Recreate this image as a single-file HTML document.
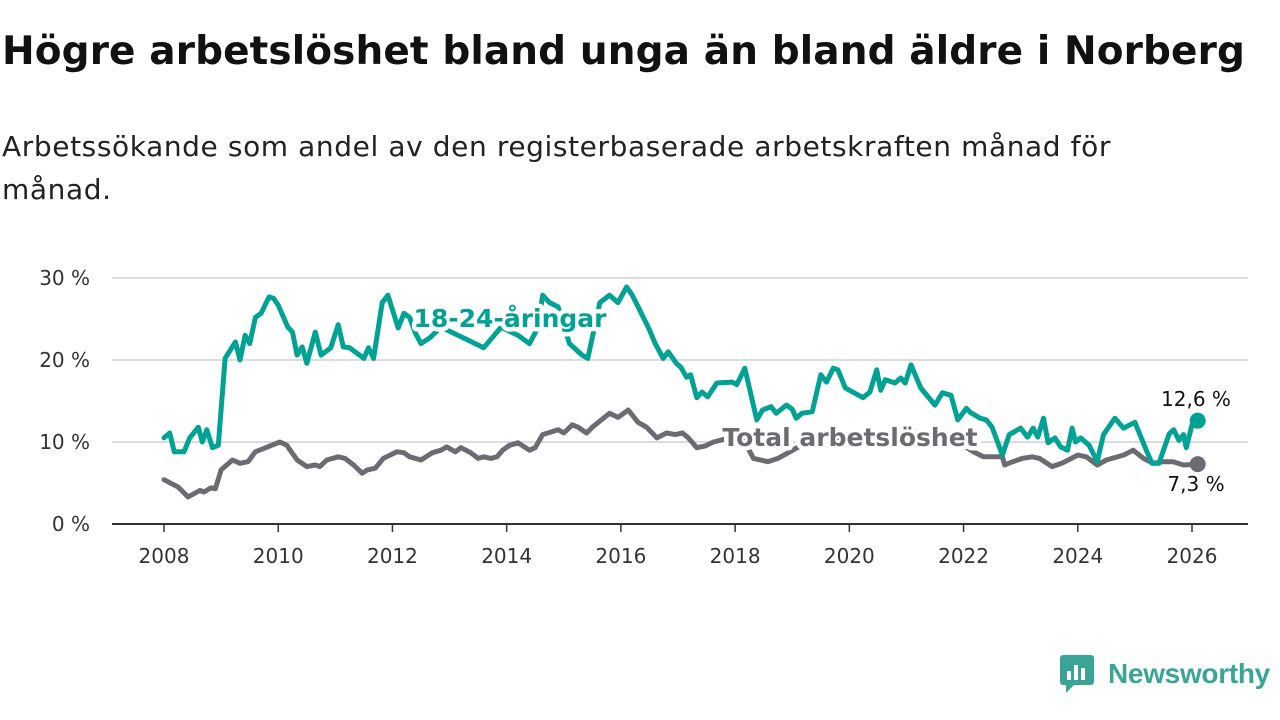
<!DOCTYPE html>
<html><head><meta charset="utf-8">
<style>
body{margin:0;width:1280px;height:720px;background:#fff;font-family:"DejaVu Sans","Liberation Sans",sans-serif;overflow:hidden;position:relative}
h1{position:absolute;left:2px;top:29px;margin:0;font-size:39px;font-weight:bold;color:#111;white-space:nowrap;line-height:46px}
.sub{position:absolute;left:2px;top:125px;margin:0;font-size:28px;letter-spacing:0.6px;line-height:43px;color:#222;width:1175px}
svg{position:absolute;left:0;top:0}
</style></head><body>
<h1 id="title">Högre arbetslöshet bland unga än bland äldre i Norberg</h1>
<p class="sub">Arbetssökande som andel av den registerbaserade arbetskraften månad för månad.</p>
<svg id="chart" width="1280" height="720"></svg>
<script>
const youthT=[2008,2008.1,2008.18,2008.35,2008.45,2008.6,2008.67,2008.75,2008.85,2008.95,2009.07,2009.25,2009.33,2009.42,2009.5,2009.6,2009.7,2009.84,2009.92,2010.0,2010.17,2010.25,2010.33,2010.42,2010.5,2010.65,2010.75,2010.92,2011.05,2011.14,2011.25,2011.5,2011.58,2011.67,2011.82,2011.92,2012.1,2012.2,2012.3,2012.4,2012.5,2012.65,2012.85,2013.0,2013.3,2013.6,2013.9,2014.2,2014.4,2014.55,2014.63,2014.75,2014.9,2015.1,2015.32,2015.42,2015.63,2015.8,2015.95,2016.1,2016.2,2016.33,2016.5,2016.6,2016.74,2016.83,2016.97,2017.05,2017.15,2017.22,2017.33,2017.42,2017.52,2017.68,2017.95,2018.03,2018.17,2018.38,2018.48,2018.63,2018.72,2018.9,2019.0,2019.07,2019.17,2019.35,2019.5,2019.6,2019.72,2019.8,2019.93,2020.24,2020.36,2020.48,2020.55,2020.63,2020.8,2020.9,2020.98,2021.08,2021.25,2021.38,2021.5,2021.63,2021.78,2021.9,2022.05,2022.12,2022.29,2022.4,2022.5,2022.68,2022.8,2023.0,2023.12,2023.22,2023.3,2023.4,2023.48,2023.6,2023.7,2023.82,2023.9,2023.96,2024.05,2024.2,2024.34,2024.45,2024.65,2024.8,2025.0,2025.2,2025.3,2025.42,2025.6,2025.68,2025.77,2025.85,2025.9,2026.0,2026.1];
const youthV=[10.5,11.1,8.8,8.8,10.5,11.8,10,11.5,9.3,9.6,20.2,22.2,20,23,22,25.2,25.7,27.7,27.5,26.7,24,23.4,20.6,21.6,19.6,23.4,20.6,21.5,24.3,21.6,21.5,20.2,21.5,20.2,27,27.9,23.9,25.7,25.2,23.3,22,22.7,24,23.5,22.5,21.5,24,23,22,24,27.9,27,26.5,22,20.6,20.2,27,27.9,27,28.9,27.9,26.1,23.7,22,20.2,21,19.6,19.1,17.9,18.2,15.4,16.1,15.5,17.2,17.3,17,19,12.7,13.9,14.3,13.5,14.5,14,12.9,13.5,13.7,18.2,17.3,19,18.8,16.6,15.4,16.1,18.8,16.3,17.6,17.2,17.8,17.2,19.4,16.6,15.5,14.5,16,15.7,12.7,14.1,13.6,12.9,12.7,11.8,8.4,10.9,11.7,10.6,11.7,10.6,12.9,9.9,10.5,9.4,9,11.7,10,10.5,9.6,7.6,10.9,12.9,11.7,12.4,9,7.4,7.4,11,11.5,10.2,10.9,9.3,12.1,12.6];
const totalT=[2008,2008.25,2008.42,2008.63,2008.7,2008.82,2008.9,2009.0,2009.2,2009.33,2009.47,2009.6,2009.78,2010.03,2010.15,2010.33,2010.5,2010.65,2010.73,2010.85,2011.05,2011.17,2011.32,2011.47,2011.56,2011.7,2011.84,2012.08,2012.2,2012.3,2012.5,2012.7,2012.85,2012.95,2013.1,2013.2,2013.37,2013.5,2013.6,2013.72,2013.83,2013.93,2014.05,2014.2,2014.4,2014.5,2014.63,2014.9,2015.0,2015.15,2015.25,2015.4,2015.5,2015.8,2015.95,2016.13,2016.3,2016.45,2016.63,2016.8,2016.95,2017.08,2017.18,2017.33,2017.47,2017.62,2017.9,2018.1,2018.26,2018.32,2018.45,2018.57,2018.75,2018.96,2019.08,2019.3,2019.6,2020.0,2020.5,2021.0,2021.5,2022.0,2022.17,2022.35,2022.52,2022.68,2022.72,2022.86,2023.03,2023.2,2023.33,2023.55,2023.72,2024.0,2024.15,2024.34,2024.5,2024.8,2024.97,2025.15,2025.32,2025.5,2025.67,2025.85,2026.1];
const totalV=[5.4,4.5,3.3,4.1,3.9,4.4,4.3,6.6,7.8,7.4,7.6,8.8,9.3,10,9.6,7.8,7,7.2,7,7.8,8.2,8,7.2,6.2,6.6,6.8,8,8.8,8.7,8.2,7.8,8.7,9,9.4,8.8,9.3,8.7,8,8.2,8,8.2,9,9.6,9.9,9,9.3,10.9,11.5,11.1,12.1,11.8,11.1,11.8,13.5,13,13.9,12.4,11.8,10.5,11.1,10.9,11.1,10.5,9.3,9.5,10,10.5,10.5,8.8,8,7.8,7.6,8,8.8,9.3,9.8,10.3,10.8,11.2,11.5,10.8,9.6,8.8,8.2,8.2,8.2,7.2,7.6,8,8.2,8,7,7.4,8.4,8.2,7.2,7.8,8.4,9,8,7.4,7.6,7.6,7.2,7.3];
const yTicks=[0,10,20,30];
const xTicks=[2008,2010,2012,2014,2016,2018,2020,2022,2024,2026];
const NS='http://www.w3.org/2000/svg';
const svg=document.getElementById('chart');
const X=y=>164+(y-2008)*(1192-164)/18;
const Y=v=>524-v*8.2;
function el(tag,attrs,parent){const e=document.createElementNS(NS,tag);for(const k in attrs)e.setAttribute(k,attrs[k]);(parent||svg).appendChild(e);return e;}
(function(){const h=document.getElementById('title');const w=h.getBoundingClientRect().width;const n=h.textContent.length;h.style.letterSpacing=((1243-w)/n)+'px';})();
yTicks.forEach(v=>{
  if(v>0){const g=el('line',{x1:112,x2:1248,y1:Y(v),y2:Y(v),stroke:'#dcdcdc','stroke-width':2});
  
  }
  const t=el('text',{x:90,y:Y(v)+7,'text-anchor':'end','font-size':20,fill:'#333'});
  t.textContent=v+' %';
  
  
});
const ax=el('line',{x1:112,x2:1248,y1:524,y2:524,stroke:'#333','stroke-width':2});


xTicks.forEach(yr=>{
  const tk=el('line',{x1:X(yr),x2:X(yr),y1:524,y2:532,stroke:'#333','stroke-width':1.5});
  
  
  const t=el('text',{x:X(yr),y:563,'text-anchor':'middle','font-size':20,fill:'#333'});
  t.textContent=yr;
  
  
});
function line(ts,vs,color,name){
  const d=ts.map((t,i)=>(i?'L':'M')+X(t).toFixed(1)+' '+Y(vs[i]).toFixed(1)).join(' ');
  const p=el('path',{d:d,fill:'none',stroke:color,'stroke-width':5,'stroke-linejoin':'round','stroke-linecap':'round'});
  
  
  const n=ts.length-1;
  const c=el('circle',{cx:X(ts[n]),cy:Y(vs[n]),r:8,fill:color});
  
  
}
line(totalT,totalV,'#6d6b72','total-line');
line(youthT,youthV,'#00a294','youth-line');
function label(txt,x,y,color,size,weight,name){
  const t=el('text',{x:x,y:y,'text-anchor':'middle','font-size':size,'font-weight':weight,fill:color,stroke:'#fff','stroke-width':weight=='bold'?9:6,'paint-order':'stroke','stroke-linejoin':'round'});
  t.textContent=txt;
  
  
}
label('18-24-åringar',510,327,'#00a294',25,'bold','youth-series-label');
label('Total arbetslöshet',850,446,'#6d6b72',25,'bold','total-series-label');
label(youthV[youthV.length-1].toString().replace('.',',')+' %',1196,406,'#111',20,'normal','youth-end-value');
label(totalV[totalV.length-1].toString().replace('.',',')+' %',1196,491,'#111',20,'normal','total-end-value');
</script>
<div style="position:absolute;left:1060px;top:655px;display:flex;align-items:center">
  <svg width="36" height="38" viewBox="0 0 36 38" style="position:static">
    <rect x="0" y="0" width="34" height="30" rx="3" fill="#3aa597"/>
    <path d="M6 30 L6 38 L14 30 Z" fill="#3aa597"/>
    <rect x="7" y="16" width="4" height="9" fill="#fff"/><rect x="14" y="10" width="4" height="15" fill="#fff"/><rect x="21" y="13" width="4" height="12" fill="#fff"/>
  </svg>
  <span style="margin-left:12px;font-family:'Liberation Sans',sans-serif;font-size:28px;font-weight:bold;color:#3aa597;letter-spacing:-0.3px">Newsworthy</span>
</div>
</body></html>
